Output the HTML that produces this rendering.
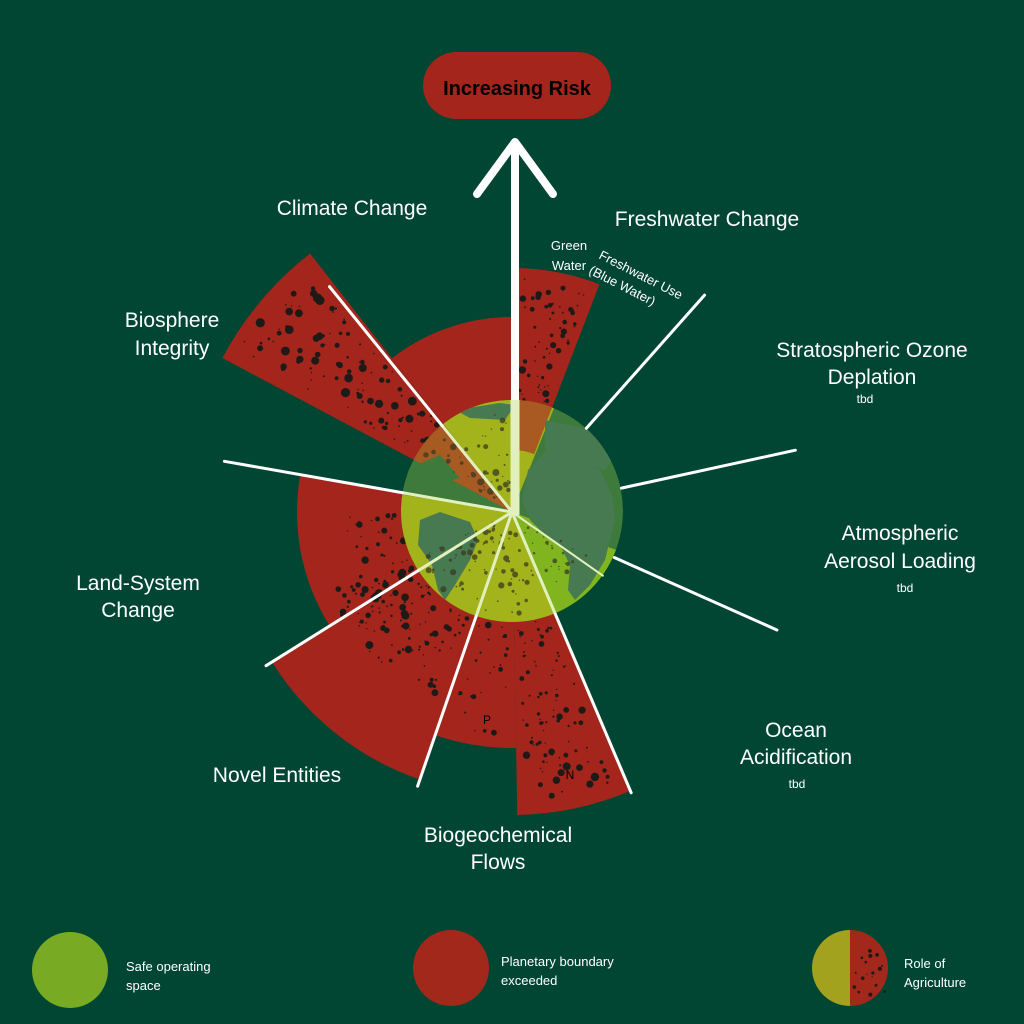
<!DOCTYPE html>
<html><head><meta charset="utf-8"><style>
html,body{margin:0;padding:0;background:#004633;}
svg{display:block}
text{font-family:"Liberation Sans",sans-serif;fill:#fff}
</style></head><body>
<svg id="s" width="1024" height="1024" viewBox="0 0 1024 1024" xmlns="http://www.w3.org/2000/svg">
<rect width="1024" height="1024" fill="#004633"/>
<defs><clipPath id="gc"><circle cx="512" cy="511" r="111"/></clipPath></defs>
<g id="wedges"></g>
<g id="dots" fill="#1e1a18"></g>
<g id="globe" clip-path="url(#gc)"></g>
<g id="gdots" fill="#3a3a22" opacity="0.75" clip-path="url(#gc)"></g>
<g id="lines" stroke="#fff" stroke-width="3" stroke-linecap="round"></g>
<line x1="515" y1="515" x2="515" y2="145" stroke="#fff" stroke-width="8"/>
<line x1="515" y1="515" x2="515" y2="400" stroke="#e2f0c0" stroke-width="9"/>
<polyline points="477,194 515,142 553,194" fill="none" stroke="#fff" stroke-width="8" stroke-linecap="round" stroke-linejoin="round"/>
<rect x="423" y="52" width="188" height="67" rx="33.5" fill="#a3251b"/>
<text x="517" y="95" text-anchor="middle" font-size="20" font-weight="bold" style="fill:#000">Increasing Risk</text>
<text x="352" y="215" text-anchor="middle" font-size="21">Climate Change</text>
<text x="707" y="226" text-anchor="middle" font-size="21">Freshwater Change</text>
<text x="569" y="250" text-anchor="middle" font-size="13">Green</text>
<text x="569" y="270" text-anchor="middle" font-size="13">Water</text>
<g transform="translate(598,258) rotate(27)"><text font-size="13">Freshwater Use</text><text x="-2" y="18" font-size="13">(Blue Water)</text></g>
<text x="172" y="327" text-anchor="middle" font-size="21">Biosphere</text>
<text x="172" y="355" text-anchor="middle" font-size="21">Integrity</text>
<text x="872" y="357" text-anchor="middle" font-size="21">Stratospheric Ozone</text>
<text x="872" y="384" text-anchor="middle" font-size="21">Deplation</text>
<text x="865" y="403" text-anchor="middle" font-size="12">tbd</text>
<text x="900" y="540" text-anchor="middle" font-size="21">Atmospheric</text>
<text x="900" y="568" text-anchor="middle" font-size="21">Aerosol Loading</text>
<text x="905" y="592" text-anchor="middle" font-size="12">tbd</text>
<text x="138" y="590" text-anchor="middle" font-size="21">Land-System</text>
<text x="138" y="617" text-anchor="middle" font-size="21">Change</text>
<text x="796" y="737" text-anchor="middle" font-size="21">Ocean</text>
<text x="796" y="764" text-anchor="middle" font-size="21">Acidification</text>
<text x="797" y="788" text-anchor="middle" font-size="12">tbd</text>
<text x="277" y="782" text-anchor="middle" font-size="21">Novel Entities</text>
<text x="498" y="842" text-anchor="middle" font-size="21">Biogeochemical</text>
<text x="498" y="869" text-anchor="middle" font-size="21">Flows</text>
<text x="487" y="724" text-anchor="middle" font-size="12" style="fill:#000">P</text>
<text x="570" y="779" text-anchor="middle" font-size="12" style="fill:#000">N</text>
<circle cx="70" cy="970" r="38" fill="#78aa24"/>
<text x="126" y="971" font-size="13">Safe operating</text>
<text x="126" y="990" font-size="13">space</text>
<circle cx="451" cy="968" r="38" fill="#a3281c"/>
<text x="501" y="966" font-size="13">Planetary boundary</text>
<text x="501" y="985" font-size="13">exceeded</text>
<path d="M850,930 A38,38 0 0 0 850,1006 Z" fill="#a3a21e"/>
<path d="M850,930 A38,38 0 0 1 850,1006 Z" fill="#a3281c"/>
<g id="ldots" fill="#1e1a18"></g>
<text x="904" y="968" font-size="13">Role of</text>
<text x="904" y="987" font-size="13">Agriculture</text>
</svg>
<script>
var NS="http://www.w3.org/2000/svg",cx=512,cy=512;
function P(a,r){var t=a*Math.PI/180;return [cx+r*Math.sin(t),cy-r*Math.cos(t)];}
function wedge(a1,a2,r,col,g,r0){r0=r0||0;var p1=P(a1,r),p2=P(a2,r),la=(a2-a1)>180?1:0;
var d;if(r0){var q1=P(a1,r0),q2=P(a2,r0);d="M"+q1+"L"+p1+"A"+r+","+r+" 0 "+la+" 1 "+p2+"L"+q2+"A"+r0+","+r0+" 0 "+la+" 0 "+q1+"Z";}
else d="M"+cx+","+cy+"L"+p1+"A"+r+","+r+" 0 "+la+" 1 "+p2+"Z";
var e=document.createElementNS(NS,"path");e.setAttribute("d",d);e.setAttribute("fill",col);g.appendChild(e);}
var W=document.getElementById("wedges"),R="#a3251b";
wedge(322,360,195,R,W);wedge(298,322,328,R,W);wedge(0,21,244,R,W);
wedge(157,179,303,R,W);wedge(179,199,236,R,W);wedge(199,238,283,R,W);wedge(238,280,215,R,W);
var seed=7;function rnd(){seed=(seed*16807)%2147483647;return seed/2147483647;}
function dots(g,a1,a2,r0,r1,n,rm){for(var i=0;i<n;i++){var a=a1+(a2-a1)*(0.05+0.9*rnd()),r=r0+(r1-r0)*rnd();var p=P(a,r);
var c=document.createElementNS(NS,"circle");c.setAttribute("cx",p[0].toFixed(1));c.setAttribute("cy",p[1].toFixed(1));c.setAttribute("r",(0.7+rm*Math.pow(rnd(),2.5)).toFixed(1));g.appendChild(c);}}
var D=document.getElementById("dots");
dots(D,300,321,110,318,110,4);dots(D,2,20,110,234,60,3.5);dots(D,159,178,112,290,90,3.5);
dots(D,181,198,112,225,25,3);dots(D,200,250,112,200,130,3.5);dots(D,250,270,112,170,25,3);
var G=document.getElementById("globe");
function gw(a1,a2,c){wedge(a1,a2,120,c,G);}
var bg=document.createElementNS(NS,"circle");bg.setAttribute("cx",512);bg.setAttribute("cy",511);bg.setAttribute("r",111);bg.setAttribute("fill","#3e7a3c");G.appendChild(bg);
gw(322,360,"#a2b31b");gw(0,22,"#a2b31b");wedge(0,21,120,"#a85a22",G,62);gw(110,157,"#80b51f");gw(157,279,"#a2b31b");gw(298,322,"#a75a22");
function blob(d,c){var e=document.createElementNS(NS,"path");e.setAttribute("d",d);e.setAttribute("fill",c||"#487a52");G.appendChild(e);}
blob("M528,470 L545,452 L575,455 L600,470 L612,495 L615,520 L605,560 L590,585 L575,600 L568,590 L570,565 L560,545 L545,535 L530,520 L522,500 Z");
blob("M420,520 L440,512 L470,522 L478,540 L470,560 L455,585 L445,600 L438,590 L432,565 L418,545 Z");
blob("M545,420 L590,430 L615,455 L605,470 L580,462 L560,468 L545,450 Z");
blob("M455,410 L500,403 L515,405 L505,420 L470,418 Z");
blob("M405,470 L440,455 L460,478 L420,490 Z","#3e7a3c");
dots(document.getElementById("gdots"),300,360,20,105,50,3);dots(document.getElementById("gdots"),157,250,20,105,90,2.5);dots(document.getElementById("gdots"),115,155,20,90,25,2);
var L=document.getElementById("lines");
function ln(a,r0,r1,col,w){var p=P(a,r0),q=P(a,r1);var e=document.createElementNS(NS,"line");e.setAttribute("x1",p[0]);e.setAttribute("y1",p[1]);e.setAttribute("x2",q[0]);e.setAttribute("y2",q[1]);if(col)e.setAttribute("stroke",col);if(w)e.setAttribute("stroke-width",w);L.appendChild(e);}
var lc="#e2f0c0";
[[321,290],[280,292],[238,290],[199,290],[157,305]].forEach(function(x){ln(x[0],0,111,lc);ln(x[0],111,x[1]);});
[[41.6,112,290],[77.7,112,290],[114,112,290]].forEach(function(x){ln(x[0],x[1],x[2]);});
ln(125,0,111,lc,2);
var LD=document.getElementById("ldots");
for(var i=0;i<18;i++){var c=document.createElementNS(NS,"circle");c.setAttribute("cx",(853+rnd()*32).toFixed(1));c.setAttribute("cy",(940+rnd()*56).toFixed(1));c.setAttribute("r",(0.6+1.6*rnd()).toFixed(1));LD.appendChild(c);}
</script>
</body></html>
